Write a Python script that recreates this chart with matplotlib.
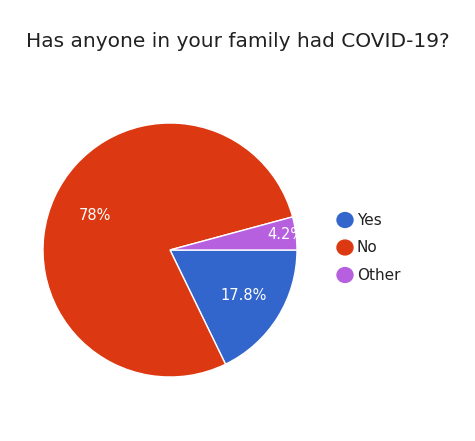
import numpy as np
import matplotlib.pyplot as plt

labels = ["Yes", "No", "Other"]
values = [17.8, 78.0, 4.2]
pct_text = ["17.8%", "78%", "4.2%"]
colors = ["#3366cc", "#dc3912", "#b660e0"]
label_dist = [0.68, 0.65, 0.92]

fig = plt.figure(figsize=(4.75, 4.41), dpi=100)
fig.text(0.5, 0.905, "Has anyone in your family had COVID-19?", ha="center",
         va="center", fontsize=14.5, color="#212121")

ax = fig.add_axes([43 / 475, 64 / 441, 254 / 475, 254 / 441])
wedges, _ = ax.pie(values, colors=colors, startangle=0, counterclock=False,
                   wedgeprops=dict(edgecolor="white", linewidth=1))
ax.set_aspect("equal")
ax.set_xlim(-1.0, 1.0)
ax.set_ylim(-1.0, 1.0)

for w, t, d in zip(wedges, pct_text, label_dist):
    ang = np.deg2rad((w.theta1 + w.theta2) / 2)
    ax.text(d * np.cos(ang), d * np.sin(ang), t, ha="center", va="center",
            color="white", fontsize=10.5, clip_on=False)

for i, (lab, c) in enumerate(zip(labels, colors)):
    y = (441 - 220 - i * 27.5) / 441
    fig.patches.append(plt.Circle((345 / 475, y), 8 / 475, color=c,
                                  transform=fig.transFigure))
    fig.text(357 / 475, y, lab, va="center", ha="left", fontsize=11, color="#212121")

fig.savefig("out.png", dpi=100)
